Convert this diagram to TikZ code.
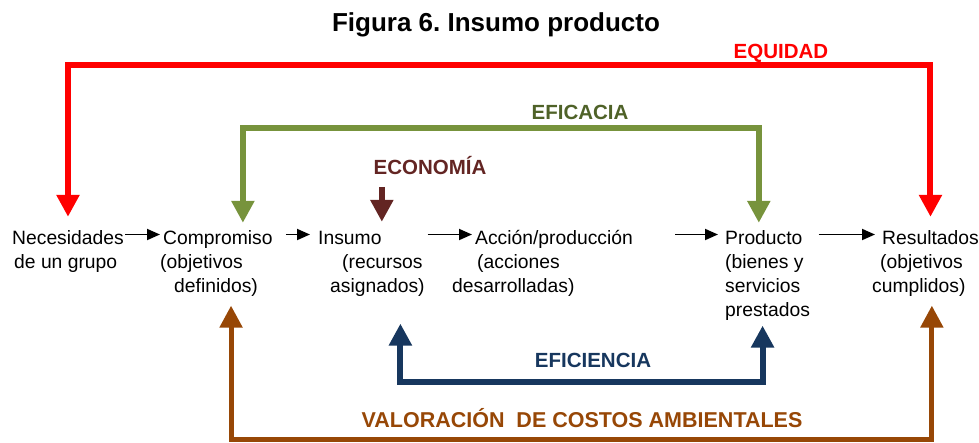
\documentclass[tikz,border=0pt]{standalone}
\usepackage{fontspec}
\setmainfont{Liberation Sans}
\usepackage{tikz}
\usetikzlibrary{calc, arrows.meta, positioning}
\definecolor{myred}{RGB}{255,0,0}
\definecolor{mygreen}{RGB}{119,147,60}
\definecolor{mygreen2}{RGB}{79,98,40}
\definecolor{mybrown}{RGB}{99,37,35}
\definecolor{myblue}{RGB}{23,55,94}
\definecolor{myorange}{RGB}{151,71,6}
\tikzset{>={Triangle[length=13pt,width=11pt]}}
\frenchspacing

\begin{document}
\begin{tikzpicture}[x=1pt,y=-1pt,
  paso/.style={inner sep=0, anchor=base west, text height=19pt, text depth=0pt, font=\fontsize{19.3}{24}\selectfont},
  detalle/.style={inner sep=0, anchor=north west, align=left, font=\fontsize{19.3}{24}\selectfont},
  rotulo/.style={font=\bfseries\fontsize{20.5}{24}\selectfont},
  grueso/.style={line width=6pt, {Triangle[width=22pt,length=22pt]}-{Triangle[width=22pt,length=22pt]}},
  flecha/.style={line width=1.8pt, ->}]
\useasboundingbox (0,0) rectangle (979,442);

\node[font=\bfseries\fontsize{26}{30}\selectfont] (titulo) at (496,25) {Figura 6. Insumo producto};

% pasos
\node[paso] (nec) at (12,244) {Necesidades};
\node[detalle] (necd) at (14,251.2) {\strut de un grupo};
\node[paso] (comp) at (163,244) {Compromiso};
\node[detalle] (compd) at (160,251.2) {\strut(objetivos\\\hspace*{14pt}\strut definidos)};
\node[paso] (ins) at (318,244) {Insumo};
\node[detalle] (insd) at (330,251.2) {\hspace*{12pt}\strut(recursos\\\strut asignados)};
\node[paso] (acc) at (475,244) {Acción/producción};
\node[detalle] (accd) at (452,251.2) {\hspace*{25pt}\strut(acciones\\\strut desarrolladas)};
\node[paso] (prod) at (725,244) {Producto};
\node[detalle] (prodd) at (725,251.2) {\strut(bienes y\\\strut servicios\\\strut prestados};
\node[paso] (res) at (882,244) {Resultados};
\node[detalle] (resd) at (872,251.2) {\hspace*{8pt}\strut(objetivos\\\strut cumplidos)};

\draw[flecha] ([xshift=1.5pt]nec.east) -- ([xshift=-3pt]comp.west);
\draw[flecha] ([xshift=13pt]comp.east) -- ([xshift=-8pt]ins.west);
\draw[flecha] ([xshift=46pt]ins.east) -- ([xshift=-3pt]acc.west);
\draw[flecha] ([xshift=42pt]acc.east) -- ([xshift=-7pt]prod.west);
\draw[flecha] ([xshift=16pt]prod.east) -- ([xshift=-7pt]res.west);

% conectores de colores
\node[rotulo, text=myred] (equidad) at (781,53) {EQUIDAD};
\draw[grueso, myred] ([yshift=8pt]nec.north) -- ++(0,-152) -| ([yshift=8pt]res.north);

\node[rotulo, text=mygreen2] (eficacia) at (580,112.5) {EFICACIA};
\draw[grueso, mygreen] ([xshift=25pt,yshift=2pt]comp.north) -- ++(0,-94.5) -| ([xshift=-5pt,yshift=2pt]prod.north);

\node[rotulo, text=mybrown] (economia) at (430,166) {ECONOMÍA};
\draw[line width=6pt, mybrown, -{Triangle[width=22pt,length=22pt]}] ([xshift=32pt,yshift=38pt]ins.north) -- ([xshift=32pt,yshift=3pt]ins.north);

\node[rotulo, text=myblue] (eficiencia) at (593,360) {EFICIENCIA};
\draw[grueso, myblue] ([xshift=23pt,yshift=-24pt]insd.south) -- ++(0,58) -| ([xshift=-5pt,yshift=-2pt]prodd.south);

\node[rotulo, text=myorange, font=\bfseries\fontsize{21.5}{24}\selectfont] (valoracion) at (582,418) {VALORACIÓN\ \ DE COSTOS AMBIENTALES};
\draw[grueso, myorange, line width=5pt] ([xshift=22pt,yshift=-6pt]compd.south) -- ++(0,133.5) -| ([xshift=13pt,yshift=-6pt]resd.south);

\end{tikzpicture}
\end{document}
